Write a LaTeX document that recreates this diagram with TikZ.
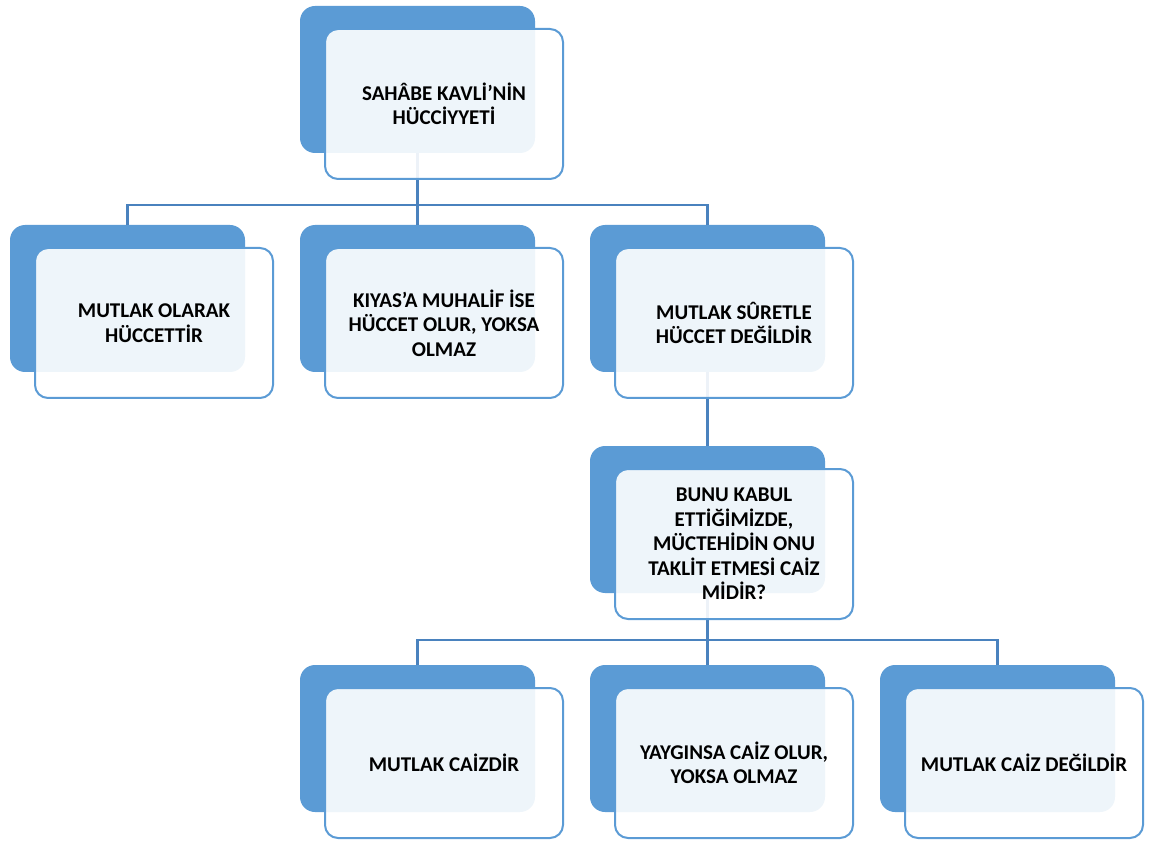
\documentclass[tikz,border=0pt]{standalone}
\usepackage{fontspec}
\setmainfont{Carlito}
\definecolor{backblue}{HTML}{5B9BD5}
\definecolor{frameblue}{HTML}{5B9BD5}
\definecolor{connblue}{HTML}{4A82BE}
\tikzset{
  backbox/.style={rectangle, rounded corners=15pt, fill=backblue, inner sep=0pt, outer sep=0pt,
    minimum width=235pt, minimum height=147pt, anchor=north west},
  frontbox/.style={rectangle, rounded corners=13pt, draw=frameblue, line width=2pt, fill=white, fill opacity=0.9, text opacity=1,
    inner sep=0pt, outer sep=0pt, minimum width=238pt, minimum height=150pt, anchor=north west,
    align=center, font=\fontsize{21}{24.5}\selectfont\bfseries, text=black},
  conn/.style={draw=connblue, line width=2.6pt}
}
\begin{document}
\begin{tikzpicture}[x=1pt,y=-1pt]
\useasboundingbox (0,0) rectangle (1152,842);
% back boxes
\node[backbox] (b1) at (300,6) {};
\node[backbox] (b2) at (10,225) {};
\node[backbox] (b3) at (300,225) {};
\node[backbox] (b4) at (590,225) {};
\node[backbox] (b5) at (590,446) {};
\node[backbox] (b6) at (300,665) {};
\node[backbox] (b7) at (590,665) {};
\node[backbox] (b8) at (880,665) {};
% connectors
\coordinate (j1) at (0,205);
\coordinate (j2) at (0,640);
\draw[conn] (b1.south) -- (b3.north);
\draw[conn] (b2.north) -- (j1 -| b2.north) -- (j1 -| b4.north) -- (b4.north);
\draw[conn] (b4.south) -- (b5.north);
\draw[conn] (b5.south) -- (b7.north);
\draw[conn] (b6.north) -- (j2 -| b6.north) -- (j2 -| b8.north) -- (b8.north);
% front boxes
\node[frontbox] (f1) at (325,29) {SAHÂBE KAVLİ’NİN\\HÜCCİYYETİ};
\node[frontbox] (f2) at (35,248) {MUTLAK OLARAK\\HÜCCETTİR};
\node[frontbox] (f3) at (325,248) {KIYAS’A MUHALİF İSE\\HÜCCET OLUR, YOKSA\\OLMAZ};
\node[frontbox] (f4) at (615,248) {MUTLAK SÛRETLE\\HÜCCET DEĞİLDİR};
\node[frontbox] (f5) at (615,469) {BUNU KABUL\\ETTİĞİMİZDE,\\MÜCTEHİDİN ONU\\TAKLİT ETMESİ CAİZ\\MİDİR?};
\node[frontbox] (f6) at (325,688) {MUTLAK CAİZDİR};
\node[frontbox] (f7) at (615,688) {YAYGINSA CAİZ OLUR,\\YOKSA OLMAZ};
\node[frontbox] (f8) at (905,688) {MUTLAK CAİZ DEĞİLDİR};
\end{tikzpicture}
\end{document}
